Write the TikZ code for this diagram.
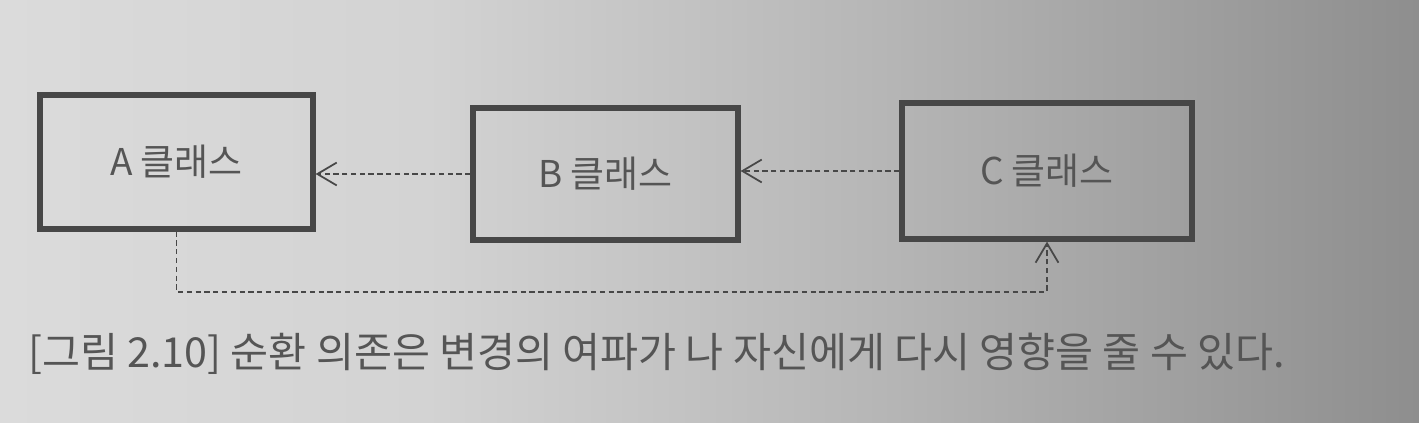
\documentclass[tikz,border=0pt]{standalone}
\usepackage{fontspec}
\setmainfont{Noto Sans CJK KR}
\usetikzlibrary{arrows.meta}
\definecolor{bgL}{HTML}{DBDBDB}
\definecolor{bgN}{HTML}{D3D3D3}
\definecolor{bgM}{HTML}{B6B6B6}
\definecolor{bgR}{HTML}{8E8E8E}
\definecolor{ink}{HTML}{474747}
\definecolor{word}{HTML}{555555}
\pgfdeclarehorizontalshading{paper}{100bp}{color(0bp)=(bgL); color(25bp)=(bgL); color(40bp)=(bgN); color(56bp)=(bgM); color(75bp)=(bgR); color(100bp)=(bgR)}
\begin{document}
\begin{tikzpicture}[
  cls/.style={draw=ink,line width=3pt,text=word,font=\fontsize{21}{25}\selectfont,inner sep=0pt},
  dep/.style={draw=ink,line width=1pt,dash pattern=on 3pt off 2pt,-{Straight Barb[length=11pt,width=13pt,line width=1pt]}}]
\shade[shading=paper] (0,0) rectangle (28.38,-8.46);     %纸面背景,左亮右暗;
\useasboundingbox (0,0) rectangle (28.38,-8.46);
\node[cls,minimum width=5.46cm,minimum height=2.68cm] (A) at (3.53,-3.24) {A 클래스};     %A类;
\node[cls,minimum width=5.30cm,minimum height=2.64cm] (B) at (12.11,-3.48) {B 클래스};     %B类;
\node[cls,minimum width=5.80cm,minimum height=2.72cm] (C) at (20.94,-3.42) {C 클래스};     %C类;
\draw[dep] (B.west) -- (A.east |- B.west);     %B依赖A;
\draw[dep] (C.west) -- (B.east |- C.west);     %C依赖B;
\draw[dep] (A.south) -- ++(0,-1.2) -| (C.south);     %A依赖C,形成循环;
\node[anchor=west,inner sep=0pt,text=word,font=\fontsize{23.5}{28}\selectfont] (cap) at (0.56,-7.08)
  {[그림 2.10] 순환 의존은 변경의 여파가 나 자신에게 다시 영향을 줄 수 있다.};     %图注;
\end{tikzpicture}
\end{document}
